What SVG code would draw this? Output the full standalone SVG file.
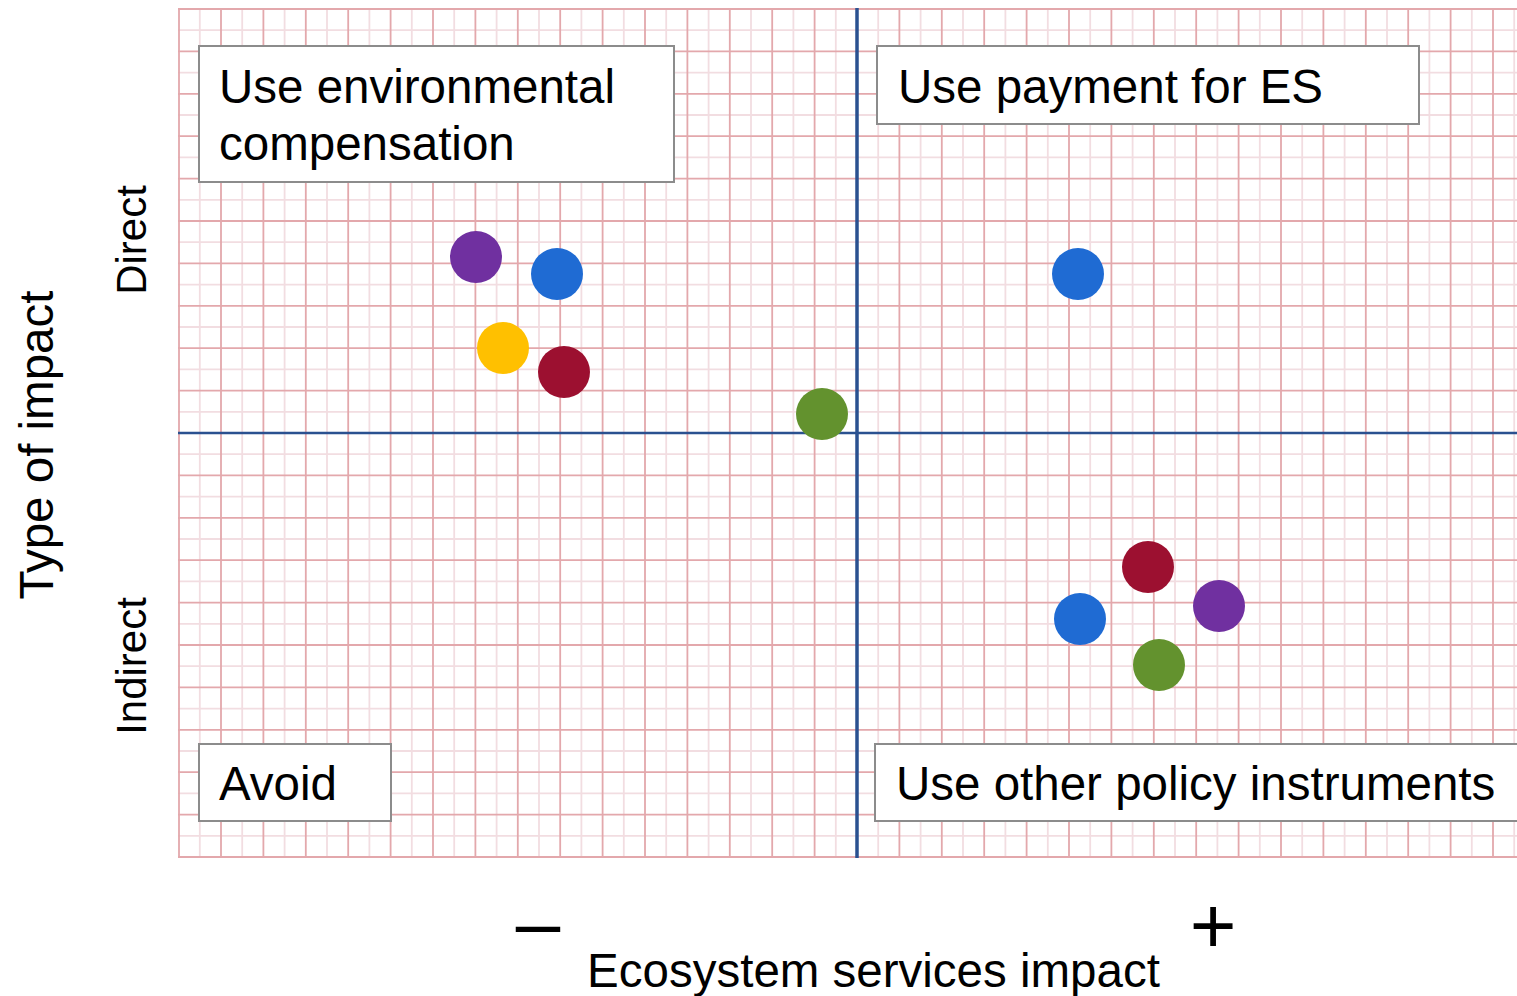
<svg xmlns="http://www.w3.org/2000/svg" width="1517" height="996" viewBox="0 0 1517 996">
<style>
.minor{stroke:#f2dde1;stroke-width:1.8;fill:none}
.major{stroke:#e3a8ac;stroke-width:1.8;fill:none}
.axis{stroke:#2a5190;fill:none}
.box{fill:#ffffff;stroke:#8c8c8c;stroke-width:2}
.lbl{font-family:"Liberation Sans",Arial,sans-serif;font-size:47.5px;fill:#000}
.side{font-family:"Liberation Sans",Arial,sans-serif;font-size:42px;fill:#000}
.sign{font-family:"Liberation Sans",Arial,sans-serif;font-size:80px;fill:#000}
</style>
<rect width="1517" height="996" fill="#ffffff"/>
<g id="grid">
<path class="minor" d="M199.8 8V858M242.2 8V858M284.6 8V858M327 8V858M369.4 8V858M411.8 8V858M454.2 8V858M496.6 8V858M539 8V858M581.4 8V858M623.8 8V858M666.2 8V858M708.6 8V858M751 8V858M793.4 8V858M835.8 8V858M878.2 8V858M920.6 8V858M963 8V858M1005.4 8V858M1047.8 8V858M1090.2 8V858M1132.6 8V858M1175 8V858M1217.4 8V858M1259.8 8V858M1302.2 8V858M1344.6 8V858M1387 8V858M1429.4 8V858M1471.8 8V858M1514.2 8V858M178 30.2H1517M178 72.6H1517M178 115H1517M178 157.4H1517M178 199.8H1517M178 242.2H1517M178 284.6H1517M178 327H1517M178 369.4H1517M178 411.8H1517M178 454.2H1517M178 496.6H1517M178 539H1517M178 581.4H1517M178 623.8H1517M178 666.2H1517M178 708.6H1517M178 751H1517M178 793.4H1517M178 835.8H1517"/>
<path class="major" d="M179 8V858M221 8V858M263.4 8V858M305.8 8V858M348.2 8V858M390.6 8V858M433 8V858M475.4 8V858M517.8 8V858M560.2 8V858M602.6 8V858M645 8V858M687.4 8V858M729.8 8V858M772.2 8V858M814.6 8V858M899.4 8V858M941.8 8V858M984.2 8V858M1026.6 8V858M1069 8V858M1111.4 8V858M1153.8 8V858M1196.2 8V858M1238.6 8V858M1281 8V858M1323.4 8V858M1365.8 8V858M1408.2 8V858M1450.6 8V858M1493 8V858M178 9H1517M178 51.4H1517M178 93.8H1517M178 136.2H1517M178 178.6H1517M178 221H1517M178 263.4H1517M178 305.8H1517M178 348.2H1517M178 390.6H1517M178 475.4H1517M178 517.8H1517M178 560.2H1517M178 602.6H1517M178 645H1517M178 687.4H1517M178 729.8H1517M178 772.2H1517M178 814.6H1517M178 857H1517"/>
</g>
<g id="connectors">
<path class="axis" stroke-width="2.5" d="M178 433H1517"/>
<path class="axis" stroke-width="3.5" d="M857 8V858"/>
</g>
<g id="box-compensation">
<rect class="box" x="199" y="46" width="475" height="136"/>
<text class="lbl" x="219" y="103">Use environmental</text>
<text class="lbl" x="219" y="160">compensation</text>
</g>
<g id="box-payment">
<rect class="box" x="877" y="46" width="542" height="78"/>
<text class="lbl" x="898" y="103">Use payment for ES</text>
</g>
<g id="box-avoid">
<rect class="box" x="199" y="744" width="192" height="77"/>
<text class="lbl" x="219" y="800">Avoid</text>
</g>
<g id="box-other">
<rect class="box" x="875" y="744" width="660" height="77"/>
<text class="lbl" x="896" y="800">Use other policy instruments</text>
</g>
<g id="points">
<circle cx="476" cy="257" r="26" fill="#7030a0"/>
<circle cx="557" cy="274" r="26" fill="#1f6bd3"/>
<circle cx="503" cy="348" r="26" fill="#ffc000"/>
<circle cx="564" cy="372" r="26" fill="#9c1030"/>
<circle cx="822" cy="414" r="26" fill="#63922e"/>
<circle cx="1078" cy="274" r="26" fill="#1f6bd3"/>
<circle cx="1148" cy="567" r="26" fill="#9c1030"/>
<circle cx="1219" cy="606" r="26" fill="#7030a0"/>
<circle cx="1080" cy="619" r="26" fill="#1f6bd3"/>
<circle cx="1159" cy="665" r="26" fill="#63922e"/>
</g>
<g id="axis-labels">
<text class="lbl" transform="translate(53,445) rotate(-90)" text-anchor="middle">Type of impact</text>
<text class="side" transform="translate(146,240) rotate(-90)" text-anchor="middle">Direct</text>
<text class="side" transform="translate(146,666) rotate(-90)" text-anchor="middle">Indirect</text>
<text class="lbl" x="873.5" y="987" text-anchor="middle">Ecosystem services impact</text>
<text class="sign" x="538" y="950" text-anchor="middle">–</text>
<text class="sign" x="1213" y="953" text-anchor="middle">+</text>
</g>
</svg>
